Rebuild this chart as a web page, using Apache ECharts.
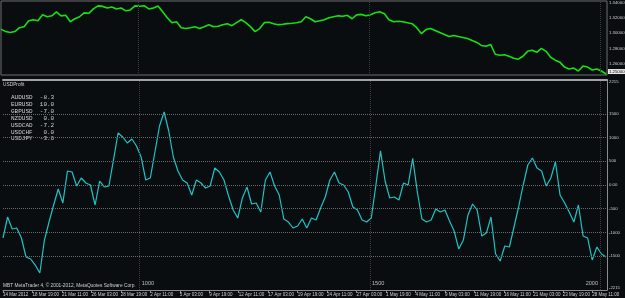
<!DOCTYPE html>
<html>
<head>
<meta charset="utf-8">
<title>USDProfit</title>
<script src="https://cdn.jsdelivr.net/npm/echarts@6/dist/echarts.min.js"></script>
<style>
    html, body { margin: 0; padding: 0; background: #0a0d0f; }
    #chart { width: 625px; height: 298px; }
</style>
</head>
<body>
<div id="chart"></div>
<script>
// H1 bars, one sample every 10 bars
var barStep = 10;
var barCount = 1312;
var dateStep = 64;

var dateLabels = ['14 Mar 2012', '18 Mar 19:00', '21 Mar 11:00', '26 Mar 03:00', '28 Mar 19:00',
    '2 Apr 11:00', '5 Apr 03:00', '9 Apr 19:00', '12 Apr 11:00', '17 Apr 03:00', '19 Apr 19:00',
    '24 Apr 11:00', '27 Apr 03:00', '1 May 19:00', '4 May 11:00', '9 May 03:00', '11 May 19:00',
    '16 May 11:00', '21 May 03:00', '23 May 19:00', '28 May 11:00'];

var priceValues = [1.3052, 1.3020, 1.3007, 1.3020, 1.3071, 1.3084, 1.3161, 1.3174, 1.3161, 1.3238,
    1.3213, 1.3225, 1.3277, 1.3225, 1.3232, 1.3148, 1.3187, 1.3213, 1.3264, 1.3258,
    1.3315, 1.3354, 1.3348, 1.3328, 1.3341, 1.3315, 1.3328, 1.3290, 1.3302, 1.3354,
    1.3350, 1.3357, 1.3315, 1.3328, 1.3354, 1.3277, 1.3200, 1.3136, 1.3148, 1.3071,
    1.3059, 1.3071, 1.3084, 1.3059, 1.3084, 1.3110, 1.3084, 1.3090, 1.3110, 1.3123,
    1.3097, 1.3136, 1.3174, 1.3136, 1.3084, 1.3020, 1.3059, 1.3136, 1.3142, 1.3123,
    1.3110, 1.3116, 1.3123, 1.3129, 1.3136, 1.3148, 1.3213, 1.3187, 1.3148, 1.3161,
    1.3174, 1.3200, 1.3213, 1.3225, 1.3219, 1.3232, 1.3187, 1.3238, 1.3244, 1.3225,
    1.3238, 1.3264, 1.3277, 1.3251, 1.3174, 1.3148, 1.3155, 1.3148, 1.3136, 1.3123,
    1.3071, 1.2994, 1.3046, 1.3059, 1.3033, 1.3007, 1.2982, 1.2956, 1.2969, 1.2956,
    1.2943, 1.2930, 1.2905, 1.2879, 1.2840, 1.2828, 1.2853, 1.2725, 1.2712, 1.2718,
    1.2699, 1.2674, 1.2661, 1.2699, 1.2763, 1.2776, 1.2750, 1.2802, 1.2763, 1.2686,
    1.2648, 1.2622, 1.2558, 1.2532, 1.2545, 1.2507, 1.2571, 1.2558, 1.2520, 1.2532,
    1.2507, 1.2468];

var profitValues = [-1118, -675, -928, -907, -1118, -1519, -1561, -1688, -1857, -1161,
    -781, -422, -84, -380, 295, 274, -21, 148, 42, 0,
    -422, 84, -42, -21, 528, 1097, 1013, 886, 971, 823,
    591, 106, 148, 696, 1245, 1540, 1139, 591, 295, 106,
    42, -211, 106, 42, -63, -21, 359, 274, 106, -232,
    -528, -696, -274, -42, -401, -380, -570, 106, 274, -21,
    -211, -717, -781, -907, -865, -717, -907, -696, -739, -485,
    -253, 106, 274, 42, 0, -148, -464, -528, -739, -781,
    -696, 0, 720, 84, -274, -253, -317, 42, 0, 560,
    -148, -717, -781, -739, -506, -570, -528, -760, -971, -1350,
    -1161, -633, -401, -528, -1076, -1013, -675, -1456, -1604, -1287,
    -1308, -886, -464, 0, 422, 570, 359, 295, -21, 148,
    485, -211, -380, -570, -781, -422, -1076, -1118, -1583, -1308,
    -1456, -1519];

var priceTicks = [1.34050, 1.32125, 1.30200, 1.28275, 1.26350];
var priceMin = 1.2455, priceMax = 1.3418;
var profitLevels = [1500, 1000, 500, 0, -500, -1000, -1500];
var profitMin = -2215, profitMax = 2215;
var markerBars = [297, 797, 1297];
var markerLabels = ['1000', '1500', '2000'];
var pairNames = ['AUDUSD', 'EURUSD', 'GBPUSD', 'NZDUSD', 'USDCAD', 'USDCHF', 'USDJPY'];
var pairWeights = [-8.3, 10.0, -7.0, 0.0, -7.2, 0.0, -3.6];

var textColor = '#cfcfcf',
    axisColor = '#8c8c8c',
    fontName = '"Liberation Sans", Arial, sans-serif';

function toPoints(values) {
    var out = [], i;
    for (i = 0; i < values.length; i++) {
        out.push([i * barStep, values[i]]);
    }
    return out;
}

function pad(s, n) {
    while (s.length < n) { s = ' ' + s; }
    return s;
}

var myChart = echarts.init(document.getElementById('chart'), null, { renderer: 'canvas' });

var priceMarks = [], profitMarks = [], i, lastPrice = priceValues[priceValues.length - 1];

for (i = 0; i < priceTicks.length; i++) {
    priceMarks.push({
        yAxis: priceTicks[i],
        lineStyle: { color: 'rgba(0,0,0,0)' },
        label: { show: true, position: 'end', distance: 2, color: textColor, fontSize: 4.3, fontFamily: fontName,
            formatter: function (p) { return p.value.toFixed(5); } }
    });
}
priceMarks.push({
    yAxis: lastPrice,
    lineStyle: { color: 'rgba(0,0,0,0)' },
    label: { show: true, position: 'end', distance: 1, color: '#000', backgroundColor: '#e8e8e8',
        padding: [1, 1, 0, 1], fontSize: 4.3, fontFamily: fontName,
        formatter: function (p) { return p.value.toFixed(5); } }
});
for (i = 0; i < markerBars.length; i++) {
    priceMarks.push({ xAxis: markerBars[i], label: { show: false } });
    profitMarks.push({ xAxis: markerBars[i], label: { show: false } });
}
for (i = 0; i < profitLevels.length; i++) {
    profitMarks.push({
        yAxis: profitLevels[i],
        lineStyle: { color: '#6a6a6a', type: 'dotted', width: 1 },
        label: { show: true, position: 'end', distance: 2, color: textColor, fontSize: 4.3, fontFamily: fontName,
            formatter: function (p) { return p.value === 0 ? '0.00' : String(p.value); } }
    });
}

var legendLines = [];
for (i = 0; i < pairNames.length; i++) {
    legendLines.push(pairNames[i] + '  ' + pad(pairWeights[i].toFixed(1), 4));
}

var option = {
    backgroundColor: '#0a0d0f',
    animation: false,
    grid: [
        { left: 1, right: 18, top: 1, height: 74, show: true, borderColor: '#6f6f6f', borderWidth: 1 },
        { left: 0, right: 18, top: 80, bottom: 8 }
    ],
    xAxis: [
        { type: 'value', gridIndex: 0, min: 0, max: barCount, show: false },
        {
            type: 'value', gridIndex: 1, min: 0, max: barCount, interval: dateStep, position: 'bottom',
            axisLine: { onZero: false, lineStyle: { color: axisColor } },
            axisTick: { length: 3, lineStyle: { color: axisColor } },
            splitLine: { show: false },
            axisLabel: {
                align: 'left', margin: 2, fontSize: 4.5, fontFamily: fontName, color: textColor,
                showMaxLabel: false,
                formatter: function (v) { return dateLabels[v / dateStep] || ''; }
            }
        },
        {
            type: 'value', gridIndex: 1, min: 0, max: barCount, position: 'top',
            axisLine: { onZero: false, lineStyle: { color: '#a3a3a3', width: 2 } },
            axisTick: { show: false }, axisLabel: { show: false }, splitLine: { show: false }
        }
    ],
    yAxis: [
        { type: 'value', gridIndex: 0, min: priceMin, max: priceMax, show: false },
        {
            type: 'value', gridIndex: 1, min: profitMin, max: profitMax, position: 'right',
            axisLine: { show: true, onZero: false, lineStyle: { color: axisColor } },
            axisTick: { show: false }, axisLabel: { show: false }, splitLine: { show: false }
        },
        {
            type: 'value', gridIndex: 1, min: profitMin, max: profitMax, position: 'right',
            axisLine: { show: false }, axisTick: { show: false }, splitLine: { show: false },
            axisLabel: {
                showMaxLabel: true, showMinLabel: false, verticalAlign: 'top', margin: 2,
                fontSize: 4.3, fontFamily: fontName, color: textColor,
                formatter: function (v) { return v === profitMax ? String(v) : ''; }
            }
        },
        {
            type: 'value', gridIndex: 1, min: profitMin, max: profitMax, position: 'right',
            axisLine: { show: false }, axisTick: { show: false }, splitLine: { show: false },
            axisLabel: {
                showMaxLabel: false, showMinLabel: true, verticalAlign: 'bottom', margin: 2,
                fontSize: 4.3, fontFamily: fontName, color: textColor,
                formatter: function (v) { return v === profitMin ? String(v) : ''; }
            }
        }
    ],
    series: [
        {
            name: 'EURUSD', type: 'line', xAxisIndex: 0, yAxisIndex: 0,
            data: toPoints(priceValues), showSymbol: false,
            lineStyle: { color: '#14e014', width: 1.6 },
            markLine: {
                silent: true, symbol: 'none', animation: false,
                lineStyle: { color: '#3c3c3c', type: 'dotted', width: 1 },
                data: priceMarks
            }
        },
        {
            name: 'USDProfit', type: 'line', xAxisIndex: 1, yAxisIndex: 1,
            data: toPoints(profitValues), showSymbol: false,
            lineStyle: { color: '#1cc4c4', width: 1.2 },
            markLine: {
                silent: true, symbol: 'none', animation: false,
                lineStyle: { color: '#3c3c3c', type: 'dotted', width: 1 },
                data: profitMarks
            }
        }
    ]
};

myChart.setOption(option);

// texts drawn on top; marker labels follow the bar scale
var graphics = [
    { type: 'text', x: 3, y: 82, style: { text: 'USDProfit', fill: textColor, font: '4.8px ' + fontName } },
    { type: 'text', x: 11, y: 94, style: { text: legendLines.join('\n'), fill: textColor,
        font: '6px "Liberation Mono", "DejaVu Sans Mono", monospace', lineHeight: 6.9 } },
    { type: 'text', x: 3, y: 283, style: { text: 'MBT MetaTrader 4, \u00a9 2001-2012, MetaQuotes Software Corp.',
        fill: textColor, font: '4.8px ' + fontName } }
];
for (i = 0; i < markerBars.length; i++) {
    var px = myChart.convertToPixel({ xAxisIndex: 1 }, markerBars[i]);
    var last = i === markerBars.length - 1;
    graphics.push({
        type: 'text', x: last ? px - 2 : px + 2, y: 280,
        style: { text: markerLabels[i], fill: '#bdbdbd', font: '5.6px ' + fontName, align: last ? 'right' : 'left' }
    });
}
myChart.setOption({ graphic: graphics });
</script>
</body>
</html>
